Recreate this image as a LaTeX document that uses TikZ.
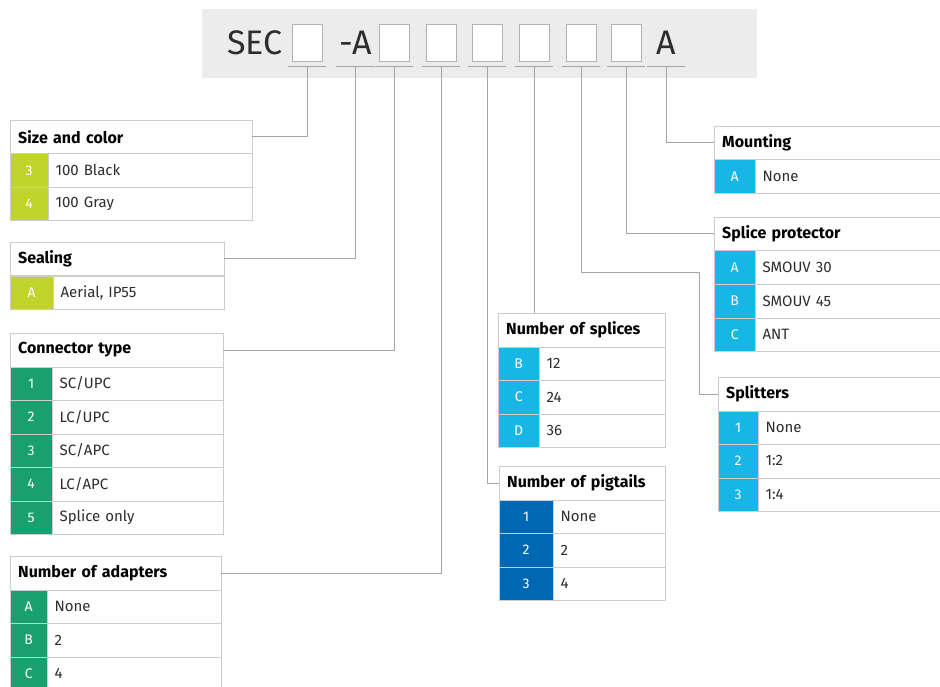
\documentclass[tikz,border=0pt]{standalone}
\usepackage{fontspec}
\setmainfont{Fira Sans}
\usepackage{tikz}
\usetikzlibrary{positioning}
\definecolor{colLime}{RGB}{192,212,44}
\definecolor{colJade}{RGB}{24,160,112}
\definecolor{colSky}{RGB}{22,182,230}
\definecolor{colNavy}{RGB}{0,104,178}
\definecolor{rulegray}{RGB}{205,205,205}
\definecolor{wiregray}{RGB}{165,165,165}
\definecolor{bandgray}{RGB}{236,236,236}
\definecolor{textgray}{RGB}{45,45,45}
\tikzset{wire/.style = {draw=wiregray, line width=0.9pt},
         slot/.style = {draw=gray!60, fill=white, line width=0.9pt, minimum width=30pt, minimum height=37pt, inner sep=0pt},
         code/.style = {inner sep=0pt, font=\fontsize{34}{34}\selectfont, text=textgray},
         head/.style = {draw=rulegray, fill=white, anchor=north west, minimum height=33.5pt, inner xsep=8pt, inner ysep=0pt,
                        text width=#1, align=left, font=\fontsize{16}{16}\selectfont\bfseries},
         badge/.style = {draw=rulegray, fill=#1, text=white, anchor=north west, minimum height=33.5pt, inner sep=0pt,
                         font=\fontsize{14}{14}\selectfont},
         cell/.style = {draw=rulegray, fill=white, anchor=north west, minimum height=33.5pt, inner xsep=7pt, inner ysep=0pt,
                        text width=#1, align=left, font=\fontsize{15}{15}\selectfont, text=textgray}}

\begin{document}
\begin{tikzpicture}[x=1pt,y=-1pt]
\useasboundingbox (0,0) rectangle (940,687);
\clip (0,0) rectangle (940,687);

% product code
\fill[bandgray] (202,9) rectangle (757,78);
\node[code] (sec) at (255,43) {SEC};
\node[slot] (s1) at (307,42.5) {};
\node[code] (dashA) at (356,43) {-A};
\node[slot] (s2) at (394,42.5) {};
\node[slot] (s3) at (441,42.5) {};
\node[slot] (s4) at (487,42.5) {};
\node[slot] (s5) at (534,42.5) {};
\node[slot] (s6) at (581,42.5) {};
\node[slot] (s7) at (626,42.5) {};
\node[code] (endA) at (666,43) {A};
\foreach \n/\x in {1/307,2/355,3/394,4/441,5/487,6/534,7/581,8/626,9/666}{
  \coordinate (t\n) at (\x,66);
  \draw[wire] ([xshift=-19pt]t\n) -- ([xshift=19pt]t\n);
}

% left column
\node[head=226pt] (size) at (10,120) {Size and color};
\foreach \k/\t [count=\i] in {3/100 Black,4/100 Gray}{
  \node[badge=colLime, minimum width=38pt] (size-k\i) at (10,{120+33.5*\i}) {\k};
  \node[cell=190pt] (size-t\i) at (size-k\i.north east) {\t};
}
\node[head=198pt] (seal) at (10,242) {Sealing};
\node[badge=colLime, minimum width=43pt] (seal-k1) at (10,275.5) {A};
\node[cell=157pt] (seal-t1) at (seal-k1.north east) {Aerial, IP55};

\node[head=197pt] (conn) at (10,333) {Connector type};
\foreach \k/\t [count=\i] in {1/SC\slash UPC,2/LC\slash UPC,3/SC\slash APC,4/LC\slash APC,5/Splice only}{
  \node[badge=colJade, minimum width=42pt] (conn-k\i) at (10,{333+33.5*\i}) {\k};
  \node[cell=157pt] (conn-t\i) at (conn-k\i.north east) {\t};
}
\node[head=195pt] (adapt) at (10,556) {Number of adapters};
\foreach \k/\t [count=\i] in {A/None,B/2,C/4}{
  \node[badge=colJade, minimum width=37pt] (adapt-k\i) at (10,{556+33.5*\i}) {\k};
  \node[cell=160pt] (adapt-t\i) at (adapt-k\i.north east) {\t};
}

% middle column
\node[head=151pt] (splice) at (498,313) {Number of splices};
\foreach \k/\t [count=\i] in {B/12,C/24,D/36}{
  \node[badge=colSky, minimum width=41pt] (splice-k\i) at (498,{313+33.5*\i}) {\k};
  \node[cell=112pt] (splice-t\i) at (splice-k\i.north east) {\t};
}
\node[head=150pt] (pig) at (499,466) {Number of pigtails};
\foreach \k/\t [count=\i] in {1/None,2/2,3/4}{
  \node[badge=colNavy, minimum width=54pt] (pig-k\i) at (499,{466+33.5*\i}) {\k};
  \node[cell=98pt] (pig-t\i) at (pig-k\i.north east) {\t};
}

% right column
\node[head=224pt] (mount) at (714,126) {Mounting};
\node[badge=colSky, minimum width=41pt] (mount-k1) at (714,159.5) {A};
\node[cell=185pt] (mount-t1) at (mount-k1.north east) {None};

\node[head=224pt] (prot) at (714,217) {Splice protector};
\foreach \k/\t [count=\i] in {A/SMOUV 30,B/SMOUV 45,C/ANT}{
  \node[badge=colSky, minimum width=41pt] (prot-k\i) at (714,{217+33.5*\i}) {\k};
  \node[cell=185pt] (prot-t\i) at (prot-k\i.north east) {\t};
}
\node[head=224pt] (split) at (718,377) {Splitters};
\foreach \k/\t [count=\i] in {1/None,2/1:2,3/1:4}{
  \node[badge=colSky, minimum width=40pt] (split-k\i) at (718,{377+33.5*\i}) {\k};
  \node[cell=186pt] (split-t\i) at (split-k\i.north east) {\t};
}

% leader lines
\coordinate (bend) at (699,272);
\draw[wire] (t1) |- (size.east);
\draw[wire] (t2) |- (seal.east);
\draw[wire] (t3) |- (conn.east);
\draw[wire] (t4) |- (adapt.east);
\draw[wire] (t5) |- (pig.west);
\draw[wire] (t6) -- (t6 |- splice.north);
\draw[wire] (t7) |- (bend) |- (split.west);
\draw[wire] (t8) |- (prot.west);
\draw[wire] (t9) |- (mount.west);
\end{tikzpicture}
\end{document}
